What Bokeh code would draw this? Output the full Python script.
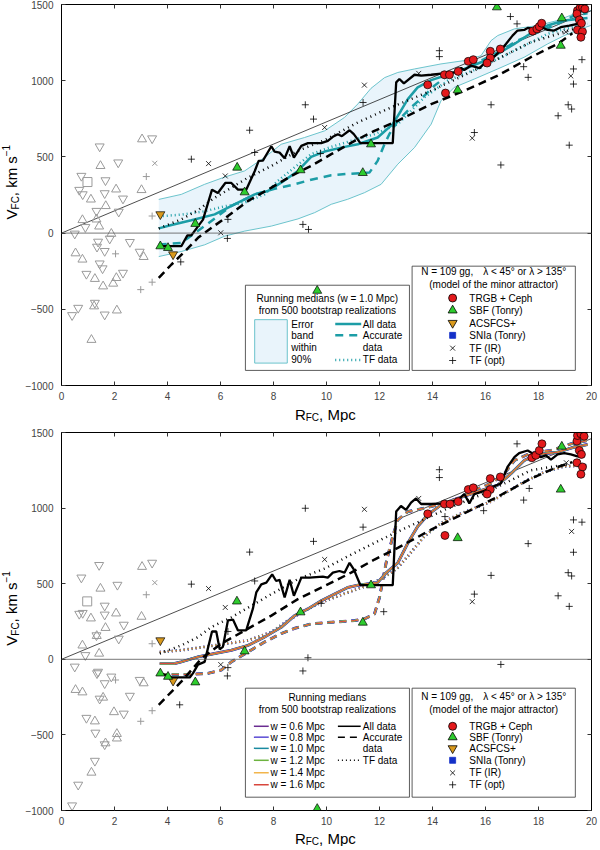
from math import pi

from bokeh.embed import file_html
from bokeh.layouts import column, row
from bokeh.models import CustomJSTickFormatter, Label, LinearAxis, Range1d, SingleIntervalTicker, Span
from bokeh.plotting import figure
from bokeh.resources import INLINE

FONT = "Liberation Sans"
TEAL = "#1c9da6"
BAND_FILL = "#e9f4fb"
BAND_EDGE = "#5cbdc6"
GRAY = "#9a9a9a"
W_COLORS = ["#6a2c91", "#5a4bd4", "#1a8aa0", "#6db33f", "#f2b54c", "#d8463c"]
W_LABELS = ["w = 0.6 Mpc", "w = 0.8 Mpc", "w = 1.0 Mpc", "w = 1.2 Mpc", "w = 1.4 Mpc", "w = 1.6 Mpc"]

# ---------------- data: upper panel (minor attractor) ----------------
top_gray_up = [(3.04, 616), (1.47, 441), (1.11, 221), (2.06, 287), (3.02, 283), (1.67, 178), (1.32, 90),
               (1.42, 44), (0.79, 86), (1.88, -4), (3.10, -156), (0.53, -132), (0.79, -173), (1.26, -300),
               (2.07, -294), (1.95, -331), (1.57, -349), (1.23, -480), (2.09, -507), (1.13, -700)]
top_gray_down = [(1.44, 568), (3.42, 621), (2.14, 463), (0.75, 375), (0.67, 283), (0.80, 254), (1.66, 346),
                 (2.32, 226), (1.63, 261), (1.32, 145), (2.16, 140), (0.90, 39), (0.50, -4), (1.82, -37),
                 (1.38, -57), (1.34, -90), (1.63, -118), (2.58, -59), (2.95, -123), (1.44, -200), (1.55, -232),
                 (0.94, -268), (2.32, -261), (1.26, -458), (0.63, -491), (0.40, -539), (1.63, -535)]
top_gray_sq = [(0.98, 335)]
top_gray_plus = [(2.04, -136), (3.20, 371), (3.42, 112), (3.42, -322), (2.99, -371)]
top_gray_x = [(3.52, 458)]

top_sbf = [(3.73, -86), (4.02, -97), (5.05, 61), (6.63, 430), (6.91, 268), (9.02, 413), (9.65, -378),
           (11.37, 395), (11.68, 583), (14.95, 938), (16.43, 1482), (18.88, 1410), (18.84, 1230)]
top_acs = [(3.73, 123), (4.21, -140)]
top_trgb = [(13.82, 973), (14.45, 1039), (14.64, 1039), (14.97, 1061), (14.49, 919), (15.35, 1127),
            (15.54, 1138), (16.18, 1193), (16.56, 1208), (16.18, 1149), (16.06, 1116), (17.78, 1325),
            (17.94, 1340), (18.03, 1355), (18.12, 1377), (19.47, 1460), (19.57, 1478), (19.66, 1482),
            (19.75, 1471), (19.45, 1439), (19.54, 1399), (19.62, 1377), (19.47, 1333), (19.66, 1322),
            (19.60, 1285)]
top_tf_ir = [(5.55, 456), (6.18, 375), (6.01, 2), (9.93, 693), (11.43, 971), (13.48, 1048), (15.50, 623),
             (19.22, 1031), (19.03, 1320)]
top_tf_opt = [(4.90, 485), (7.10, 675), (7.29, 529), (9.20, 842), (9.51, 748), (11.38, 857), (9.11, 57),
              (9.32, 24), (6.26, -35), (4.50, -189), (6.28, 90), (9.77, 522), (14.26, 1197), (14.26, 1158),
              (16.21, 842), (16.58, 447), (15.58, 660), (16.94, 1421), (17.19, 1373), (17.44, 1092),
              (17.61, 1022), (19.64, 1138), (19.32, 1077), (19.32, 978), (19.12, 842), (19.25, 814),
              (18.74, 770), (19.16, 577)]

# running median of the real sample (black, thick)
top_median = [(3.73, -86), (4.52, -86), (4.75, -15), (4.90, -15), (5.34, 88), (5.68, 285), (5.90, 263),
              (6.18, 329), (6.41, 329), (6.66, 285), (6.97, 285), (7.29, 406), (7.44, 474), (7.60, 476),
              (7.92, 570), (8.04, 535), (8.23, 528), (8.42, 491), (8.61, 570), (8.77, 496), (9.05, 572),
              (9.30, 590), (9.80, 590), (10.05, 605), (10.24, 632), (10.43, 649), (10.58, 636), (10.87, 675),
              (11.03, 649), (11.28, 590), (12.50, 590), (12.63, 989), (12.75, 1011), (12.92, 982),
              (13.32, 1039), (13.57, 1033), (13.95, 1039), (14.42, 1048), (14.82, 1054), (15.08, 1083),
              (15.20, 1070), (15.45, 1099), (15.77, 1083), (15.96, 1114), (16.33, 1158), (16.56, 1197),
              (16.77, 1241), (17.02, 1296), (17.21, 1329), (17.46, 1333), (17.59, 1346), (17.84, 1340),
              (17.97, 1329), (18.19, 1346), (18.34, 1333), (18.59, 1329), (18.84, 1351), (19.16, 1362),
              (19.47, 1373), (19.75, 1368)]
# bootstrap medians, w = 1.0 Mpc
top_all = [(3.67, 31), (4.15, 53), (4.90, 84), (5.78, 123), (6.66, 200), (7.29, 254), (7.79, 276), (8.29, 331),
           (8.92, 408), (9.42, 500), (9.93, 535), (10.55, 561), (11.18, 583), (11.93, 627), (12.50, 715),
           (12.81, 803), (13.07, 879), (13.44, 956), (13.95, 1004), (14.57, 1039), (15.20, 1077),
           (15.83, 1121), (16.46, 1175), (17.09, 1241), (17.71, 1311), (18.34, 1362), (18.97, 1395),
           (19.85, 1412)]
top_accurate = [(3.67, -75), (4.52, -64), (5.40, 46), (6.41, 178), (7.29, 254), (8.04, 290), (8.79, 320),
                (9.42, 350), (10.18, 380), (10.93, 390), (11.62, 397), (11.93, 474), (12.16, 572),
                (12.37, 649), (12.69, 737), (13.19, 825), (13.69, 901), (14.07, 967), (14.57, 1033),
                (15.20, 1077), (15.83, 1132), (16.46, 1186), (17.21, 1263), (17.97, 1318), (18.72, 1373),
                (19.35, 1428), (19.85, 1443)]
top_tf = [(3.67, 110), (4.52, 121), (5.40, 143), (6.16, 176), (6.91, 200), (7.66, 254), (8.16, 342),
          (8.79, 430), (9.42, 518), (10.18, 566), (10.93, 605), (11.81, 649), (12.69, 715), (13.69, 890),
          (14.57, 1000), (15.83, 1088), (17.09, 1197), (18.34, 1307), (19.22, 1351), (19.85, 1373)]
top_band_hi = [(3.67, 221), (4.52, 254), (5.40, 320), (6.16, 368), (6.91, 408), (7.66, 496), (8.29, 583),
               (9.17, 627), (9.93, 671), (10.68, 759), (11.18, 847), (11.68, 950), (12.19, 1020),
               (12.69, 1054), (13.32, 1077), (14.32, 1110), (15.20, 1132), (15.83, 1164), (16.21, 1263),
               (16.46, 1296), (17.09, 1340), (17.97, 1362), (18.72, 1395), (19.35, 1439), (19.97, 1460)]
top_band_lo = [(3.67, -154), (4.52, -121), (5.40, -77), (6.16, -20), (6.91, 13), (7.92, 46), (8.92, 93),
               (9.55, 134), (10.18, 189), (10.80, 222), (11.43, 265), (12.06, 320), (12.69, 452),
               (13.32, 561), (13.95, 715), (14.32, 868), (14.82, 956), (15.58, 1011), (16.46, 1077),
               (17.46, 1154), (18.34, 1241), (18.97, 1296), (19.60, 1340), (19.97, 1362)]
# model curves
top_model_dash = [(3.67, -294), (4.15, -206), (4.65, -121), (5.15, -31), (5.65, 33), (6.28, 112), (7.04, 211),
                  (7.92, 298), (8.67, 375), (9.42, 441), (10.18, 518), (11.06, 605), (11.81, 671),
                  (12.69, 737), (13.95, 846), (15.20, 934), (16.46, 1033), (17.71, 1154), (18.72, 1241),
                  (19.28, 1311)]
top_model_dot = [(3.67, 30), (4.52, 90), (5.15, 150), (5.72, 225), (7.04, 364), (7.92, 441), (8.92, 540),
                 (9.93, 610), (11.18, 726), (12.44, 825), (13.95, 934), (15.83, 1088), (17.71, 1252),
                 (19.35, 1340)]

# ---------------- data: lower panel (major attractor) ----------------
bot_gray_up = [(3.04, 612), (1.47, 468), (1.11, 271), (2.06, 304), (3.02, 282), (1.66, 208), (0.79, 92),
               (1.42, 38), (1.33, 155), (3.10, -158), (0.53, -202), (0.79, -218), (1.57, -253), (1.26, -410),
               (1.98, -349), (2.09, -493), (2.09, -523), (1.13, -749), (1.66, -555)]
bot_gray_down = [(1.42, 623), (3.42, 638), (0.75, 540), (2.11, 492), (1.63, 354), (0.67, 300), (0.80, 306),
                 (1.63, 295), (2.35, 228), (1.32, 158), (2.16, 136), (0.90, 27), (0.50, -49), (1.38, -83),
                 (1.34, -93), (1.63, -159), (1.88, -115), (2.58, -242), (2.95, -137), (1.44, -261),
                 (0.94, -388), (2.35, -360), (1.28, -486), (1.63, -563), (1.26, -672), (0.63, -830),
                 (0.40, -967)]
bot_gray_sq = [(0.97, 383)]
bot_gray_plus = [(2.04, -137), (3.20, 427), (3.42, 103), (3.42, -340), (2.99, -410)]
bot_gray_x = [(3.52, 507)]

bot_sbf = [(3.73, -93), (4.02, -115), (5.05, -152), (6.62, 383), (6.91, 53), (9.02, 311), (9.65, -989),
           (11.37, 243), (11.68, 490), (14.95, 802), (18.84, 1123), (18.88, 1407)]
bot_acs = [(3.73, 125), (4.21, -142)]
bot_trgb = [(13.82, 962), (14.47, 819), (14.45, 1027), (14.66, 1027), (14.97, 1043), (15.35, 1123),
            (15.54, 1134), (16.18, 1195), (16.56, 1206), (16.18, 1123), (16.06, 1093), (17.75, 1333),
            (17.90, 1349), (18.03, 1381), (18.13, 1425), (19.45, 1443), (19.47, 1480), (19.60, 1491),
            (19.72, 1475), (19.54, 1381), (19.62, 1355), (19.45, 1300), (19.66, 1272), (19.60, 1224)]
bot_tf_ir = [(5.55, 468), (6.18, 343), (6.01, -35), (9.93, 660), (11.43, 992), (13.48, 1064), (15.50, 381),
             (19.25, 846), (19.05, 1300)]
bot_tf_opt = [(4.90, 497), (7.10, 709), (7.29, 518), (9.20, 999), (9.51, 780), (11.38, 874), (9.30, 10),
              (9.11, -77), (6.26, -110), (6.28, -55), (4.46, -301), (9.80, 370), (6.28, 184), (14.26, 1254),
              (14.26, 1202), (16.21, 555), (16.58, -34), (15.58, 431), (17.19, 1425), (17.44, 1053),
              (17.61, 765), (19.64, 907), (19.32, 922), (19.32, 708), (19.12, 573), (19.25, 551),
              (18.74, 420), (19.16, 350), (12.16, 315), (14.47, 944), (15.93, 983), (17.65, 1130)]

bot_median = [(3.73, -93), (4.15, -120), (4.84, -120), (4.96, -93), (5.15, -35), (5.40, -17), (5.68, 184),
              (5.84, 184), (5.97, 66), (6.09, 82), (6.28, 257), (6.47, 263), (6.66, 191), (6.97, 191),
              (7.22, 333), (7.35, 442), (7.54, 496), (7.73, 507), (7.95, 562), (8.10, 518), (8.23, 525),
              (8.42, 409), (8.61, 525), (8.77, 420), (9.05, 540), (9.36, 540), (9.86, 547), (10.05, 540),
              (10.24, 573), (10.49, 584), (10.68, 573), (10.87, 638), (11.03, 595), (11.28, 490),
              (12.50, 490), (12.63, 977), (12.81, 1014), (13.00, 988), (13.19, 1036), (13.38, 1064),
              (13.57, 1027), (13.95, 1027), (14.45, 1031), (14.95, 1053), (15.20, 1093), (15.39, 1031),
              (15.58, 1093), (15.96, 1114), (16.27, 1141), (16.58, 1163), (16.83, 1272), (17.09, 1337),
              (17.27, 1364), (17.59, 1381), (17.84, 1355), (18.09, 1337), (18.28, 1349), (18.47, 1320),
              (18.72, 1355), (18.97, 1364), (19.22, 1355), (19.47, 1342), (19.72, 1342)]
# bootstrap medians, all window widths (they nearly coincide)
bot_all = [(3.71, -28), (4.27, -28), (4.52, -17), (5.15, 16), (5.78, 38), (6.41, 60), (7.04, 92), (7.66, 147),
           (8.29, 212), (8.80, 289), (9.30, 333), (9.80, 387), (10.30, 431), (10.80, 475), (11.18, 490),
           (11.93, 507), (12.25, 572), (12.69, 638), (13.07, 769), (13.44, 879), (13.82, 955), (14.32, 1021),
           (14.95, 1064), (15.70, 1108), (16.46, 1152), (16.96, 1228), (17.46, 1315), (17.97, 1355),
           (18.72, 1370), (19.35, 1403), (19.85, 1420)]
bot_accurate = [(3.71, -100), (4.78, -100), (5.53, -93), (6.03, -71), (6.41, -17), (7.04, 49), (7.66, 114),
                (8.29, 170), (8.80, 205), (9.42, 234), (10.18, 245), (11.06, 256), (11.43, 267), (11.81, 300),
                (12.00, 409), (12.25, 638), (12.50, 813), (12.69, 922), (13.07, 977), (13.69, 999),
                (14.32, 1027), (14.95, 1064), (15.58, 1119), (16.21, 1163), (16.71, 1228), (17.09, 1315),
                (17.71, 1364), (18.47, 1381), (19.22, 1425), (19.85, 1447)]
bot_tf = [(3.71, 48), (4.52, 60), (5.78, 92), (7.04, 125), (7.92, 180), (8.54, 256), (9.17, 322), (9.80, 376),
          (10.80, 442), (11.68, 496), (12.44, 572), (12.69, 606), (13.07, 682), (13.69, 813), (14.32, 900),
          (14.95, 955), (15.58, 999), (16.21, 1043), (16.83, 1108), (17.46, 1174), (18.22, 1239),
          (18.97, 1276), (19.85, 1283)]
bot_model_dash = [(3.67, -301), (4.52, -148), (5.28, 5), (6.03, 103), (6.91, 190), (7.92, 289), (8.92, 398),
                  (9.93, 485), (10.93, 573), (11.81, 660), (12.69, 737), (13.95, 857), (15.20, 966),
                  (16.46, 1075), (17.71, 1195), (18.72, 1272), (19.28, 1304)]
bot_model_dot = [(3.71, 38), (4.52, 92), (5.15, 147), (5.65, 212), (6.41, 278), (7.16, 354), (7.92, 431),
                 (8.92, 530), (9.93, 600), (11.18, 715), (12.44, 824), (14.45, 988), (15.96, 1097),
                 (17.71, 1250), (19.22, 1294)]

hubble_r = [0, 20]
hubble_v = [0, 1460]

YLAB_W = 20
LEFT = 41
RIGHT = 7
FRAME_W = 530


def xy(pairs):
    return [a for a, b in pairs], [b for a, b in pairs]


def make_fig(height, top, bottom):
    p = figure(width=LEFT + FRAME_W + RIGHT, height=height, x_range=Range1d(0, 20),
               y_range=Range1d(-1000, 1500), output_backend="svg", toolbar_location=None,
               min_border_left=LEFT, min_border_right=RIGHT, min_border_top=top, min_border_bottom=bottom)
    p.grid.visible = False
    p.outline_line_color = "black"
    p.add_layout(LinearAxis(), "above")
    p.add_layout(LinearAxis(), "right")
    for ax in p.xaxis:
        ax.ticker = SingleIntervalTicker(interval=2)
    for ax in p.yaxis:
        ax.ticker = SingleIntervalTicker(interval=500)
    for ax in p.axis:
        ax.major_tick_in = 4
        ax.major_tick_out = 0
        ax.minor_tick_line_color = None
        ax.axis_line_color = "black"
        ax.major_tick_line_color = "#333333"
        ax.major_label_text_font = FONT
        ax.major_label_text_font_size = "10px"
        ax.major_label_standoff = 4
    p.below[0].major_label_standoff = 2
    for ax in p.above + p.right:
        ax.formatter = CustomJSTickFormatter(code="return ''")
        ax.major_label_standoff = 0
    return p


def blank_fig(width, height, x_range, y_range, left=0, right=0, top=0, bottom=0):
    f = figure(width=width, height=height, x_range=x_range, y_range=y_range, output_backend="svg",
               toolbar_location=None, x_axis_location=None, y_axis_location=None,
               min_border_left=left, min_border_right=right, min_border_top=top, min_border_bottom=bottom)
    f.outline_line_color = None
    f.grid.visible = False
    return f


def txt(p, x, y, s, size="10px", align="left", angle=0.0, baseline="middle"):
    p.add_layout(Label(x=x, y=y, text=s, text_font=FONT, text_font_size=size, text_align=align,
                       text_baseline=baseline, angle=angle, text_color="black"))


def y_label_fig(p, height, top, bottom, frame_h):
    f = blank_fig(YLAB_W, height, Range1d(0, YLAB_W), p.y_range, top=top, bottom=bottom)
    ky = 2500.0 / frame_h
    ycur = 90
    # V_FC, km s^-1 written bottom-to-top; larger x = lower (subscript) side of the text
    for s, size, cx, w in [("V", "15px", 10.5, 10.0), ("FC", "10px", 15.0, 13.3),
                           (", km s", "15px", 10.5, 40.0), ("\u22121", "10px", 5.5, 11.0)]:
        txt(f, cx, ycur, s, size=size, angle=pi / 2)
        ycur += w * ky
    return f


def x_label_fig(p, height, base):
    f = blank_fig(YLAB_W + LEFT + FRAME_W + RIGHT, height, p.x_range, Range1d(0, height),
                  left=YLAB_W + LEFT, right=RIGHT)
    kx = 20.0 / FRAME_W
    xcur = 8.81
    for s, size, dy, w in [("R", "15px", 0, 10.8), ("FC", "10px", -3, 13.3), (", Mpc", "15px", 0, 0)]:
        txt(f, xcur, base + dy, s, size=size, baseline="alphabetic")
        xcur += w * kx
    return f


def draw_points(p, gup, gdown, gsq, gplus, gx, sbf, acs, trgb, ir, opt):
    for pts, m in [(gup, "triangle"), (gdown, "inverted_triangle"), (gsq, "square")]:
        x, y = xy(pts)
        p.scatter(x, y, marker=m, size=9, fill_color=None, line_color=GRAY, line_width=1)
    x, y = xy(gplus)
    p.scatter(x, y, marker="cross", size=7, line_color=GRAY, line_width=1)
    x, y = xy(gx)
    p.scatter(x, y, marker="x", size=7, line_color=GRAY, line_width=1)
    x, y = xy(opt)
    p.scatter(x, y, marker="cross", size=7, line_color="black", line_width=0.8)
    x, y = xy(ir)
    p.scatter(x, y, marker="x", size=7, line_color="black", line_width=0.8)
    x, y = xy(acs)
    p.scatter(x, y, marker="inverted_triangle", size=9, fill_color="#d9991c", line_color="black",
              line_width=0.7)
    x, y = xy(sbf)
    p.scatter(x, y, marker="triangle", size=9, fill_color="#2ecc2e", line_color="black", line_width=0.7)
    x, y = xy(trgb)
    p.scatter(x, y, marker="circle", size=8, fill_color="#e3191c", line_color="black", line_width=0.7)


def marker_legend(p, x_box, y_box, title1, title2, y_t1, y_t2, rows):
    p.quad(left=[x_box[0]], right=[x_box[1]], top=[y_box[1]], bottom=[y_box[0]],
           fill_color="white", line_color="#333333", line_width=0.8)
    txt(p, 16.31, y_t1, title1, align="center")
    txt(p, 16.31, y_t2, title2, align="center")
    styles = [("circle", "#e3191c", "black", 8), ("triangle", "#2ecc2e", "black", 9),
              ("inverted_triangle", "#d9991c", "black", 9), ("square", "#1430c8", "#1430c8", 6),
              ("x", None, "black", 7), ("cross", None, "black", 7)]
    names = ["TRGB + Ceph", "SBF (Tonry)", "ACSFCS+", "SNIa (Tonry)", "TF (IR)", "TF (opt)"]
    for (m, fc, lc, s), name, yr in zip(styles, names, rows):
        p.scatter([14.76], [yr], marker=m, size=s, fill_color=fc, line_color=lc, line_width=0.8)
        txt(p, 15.39, yr, name)


# ================= upper panel =================
P1_H, P1_TOP, P1_BOT = 402, 4, 16
p1 = make_fig(P1_H, P1_TOP, P1_BOT)
top_rows = [-426, -507, -590, -671, -755, -836]
# legend box sits below the data
p1.quad(left=[6.94], right=[13.13], top=[-342], bottom=[-901], fill_color="white", line_color="#333333",
        line_width=0.8)

hx, hy = xy(top_band_hi)
lx, ly = xy(top_band_lo)
p1.patch(hx + lx[::-1], hy + ly[::-1], fill_color=BAND_FILL, line_color=None)
p1.line(hx, hy, line_color=BAND_EDGE, line_width=0.9)
p1.line(lx, ly, line_color=BAND_EDGE, line_width=0.9)
p1.add_layout(Span(location=0, dimension="width", line_color="#555555", line_width=0.8))
p1.line(hubble_r, hubble_v, line_color="black", line_width=0.7)

x, y = xy(top_tf)
p1.line(x, y, line_color=TEAL, line_width=2.5, line_dash="1 3")
x, y = xy(top_accurate)
p1.line(x, y, line_color=TEAL, line_width=2.5, line_dash="8 6")
x, y = xy(top_all)
p1.line(x, y, line_color=TEAL, line_width=2.5)
x, y = xy(top_model_dot)
p1.line(x, y, line_color="black", line_width=2.5, line_dash="1 4")
x, y = xy(top_model_dash)
p1.line(x, y, line_color="black", line_width=2.5, line_dash="8 5")
x, y = xy(top_median)
p1.line(x, y, line_color="black", line_width=2.3)

draw_points(p1, top_gray_up, top_gray_down, top_gray_sq, top_gray_plus, top_gray_x,
            top_sbf, top_acs, top_trgb, top_tf_ir, top_tf_opt)

txt(p1, 10.03, -430, "Running medians (w = 1.0 Mpc)", align="center")
txt(p1, 10.03, -507, "from 500 bootstrap realizations", align="center")
p1.quad(left=[7.29], right=[8.52], top=[-568], bottom=[-853], fill_color=BAND_FILL, line_color=BAND_EDGE,
        line_width=0.9)
for s, yr in zip(["Error", "band", "within", "90%"], [-597, -671, -750, -832]):
    txt(p1, 8.67, yr, s)
p1.line([10.33, 11.31], [-597, -597], line_color=TEAL, line_width=2.5)
p1.line([10.33, 11.31], [-671, -671], line_color=TEAL, line_width=2.5, line_dash="8 6")
p1.line([10.33, 11.31], [-832, -832], line_color=TEAL, line_width=2.5, line_dash="1 3")
for s, yr in zip(["All data", "Accurate", "data", "TF data"], [-597, -671, -750, -832]):
    txt(p1, 11.37, yr, s)

marker_legend(p1, (13.23, 19.39), (-901, -217), "N = 109 gg,\u2002\u2002\u03bb < 45\u00b0 or \u03bb > 135\u00b0",
              "(model of the minor attractor)", -250, -338, top_rows)

# ================= lower panel =================
P2_H, P2_TOP, P2_BOT = 405, 10, 16
p2 = make_fig(P2_H, P2_TOP, P2_BOT)
bot_rows = [-443, -515, -589, -668, -751, -830]
p2.quad(left=[6.94], right=[13.13], top=[-191], bottom=[-912], fill_color="white", line_color="#333333",
        line_width=0.8)
p2.add_layout(Span(location=0, dimension="width", line_color="#555555", line_width=0.8))
p2.line(hubble_r, hubble_v, line_color="black", line_width=0.7)

# six window widths drawn nested, widest first
widths = [3.0, 2.6, 2.2, 1.8, 1.4, 1.0]
for series, dash in [(bot_tf, "1 3"), (bot_accurate, "7 5"), (bot_all, "solid")]:
    x, y = xy(series)
    for c, lw in zip(W_COLORS, widths):
        p2.line(x, y, line_color=c, line_width=lw, line_dash=dash)

x, y = xy(bot_model_dot)
p2.line(x, y, line_color="black", line_width=2.5, line_dash="1 4")
x, y = xy(bot_model_dash)
p2.line(x, y, line_color="black", line_width=2.5, line_dash="8 5")
x, y = xy(bot_median)
p2.line(x, y, line_color="black", line_width=2.3)

draw_points(p2, bot_gray_up, bot_gray_down, bot_gray_sq, bot_gray_plus, bot_gray_x,
            bot_sbf, bot_acs, bot_trgb, bot_tf_ir, bot_tf_opt)

txt(p2, 10.03, -253, "Running medians", align="center")
txt(p2, 10.03, -334, "from 500 bootstrap realizations", align="center")
for c, s, yr in zip(W_COLORS, W_LABELS, bot_rows):
    p2.line([7.26, 7.82], [yr, yr], line_color=c, line_width=1.5)
    txt(p2, 7.89, yr, s)
p2.line([10.43, 11.29], [-443, -443], line_color="black", line_width=1.5)
p2.line([10.43, 11.29], [-515, -515], line_color="black", line_width=1.5, line_dash="7 5")
p2.line([10.43, 11.29], [-668, -668], line_color="black", line_width=1.5, line_dash="1 3")
for s, yr in zip(["All data", "Accurate", "data", "TF data"], [-443, -515, -589, -668]):
    txt(p2, 11.37, yr, s)

marker_legend(p2, (13.23, 19.39), (-912, -191), "N = 109 gg,\u2002\u2002\u03bb < 45\u00b0 or \u03bb > 135\u00b0",
              "(model of the major attractor)", -246, -334, bot_rows)

# axis titles live in narrow helper figures so they are not clipped
yl1 = y_label_fig(p1, P1_H, P1_TOP, P1_BOT, P1_H - P1_TOP - P1_BOT)
yl2 = y_label_fig(p2, P2_H, P2_TOP, P2_BOT, P2_H - P2_TOP - P2_BOT)
xl1 = x_label_fig(p1, 20, 8.5)
xl2 = x_label_fig(p2, 19, 8.0)

layout = column(row(yl1, p1), xl1, row(yl2, p2), xl2)
open("out.html", "w").write(file_html(layout, INLINE))
